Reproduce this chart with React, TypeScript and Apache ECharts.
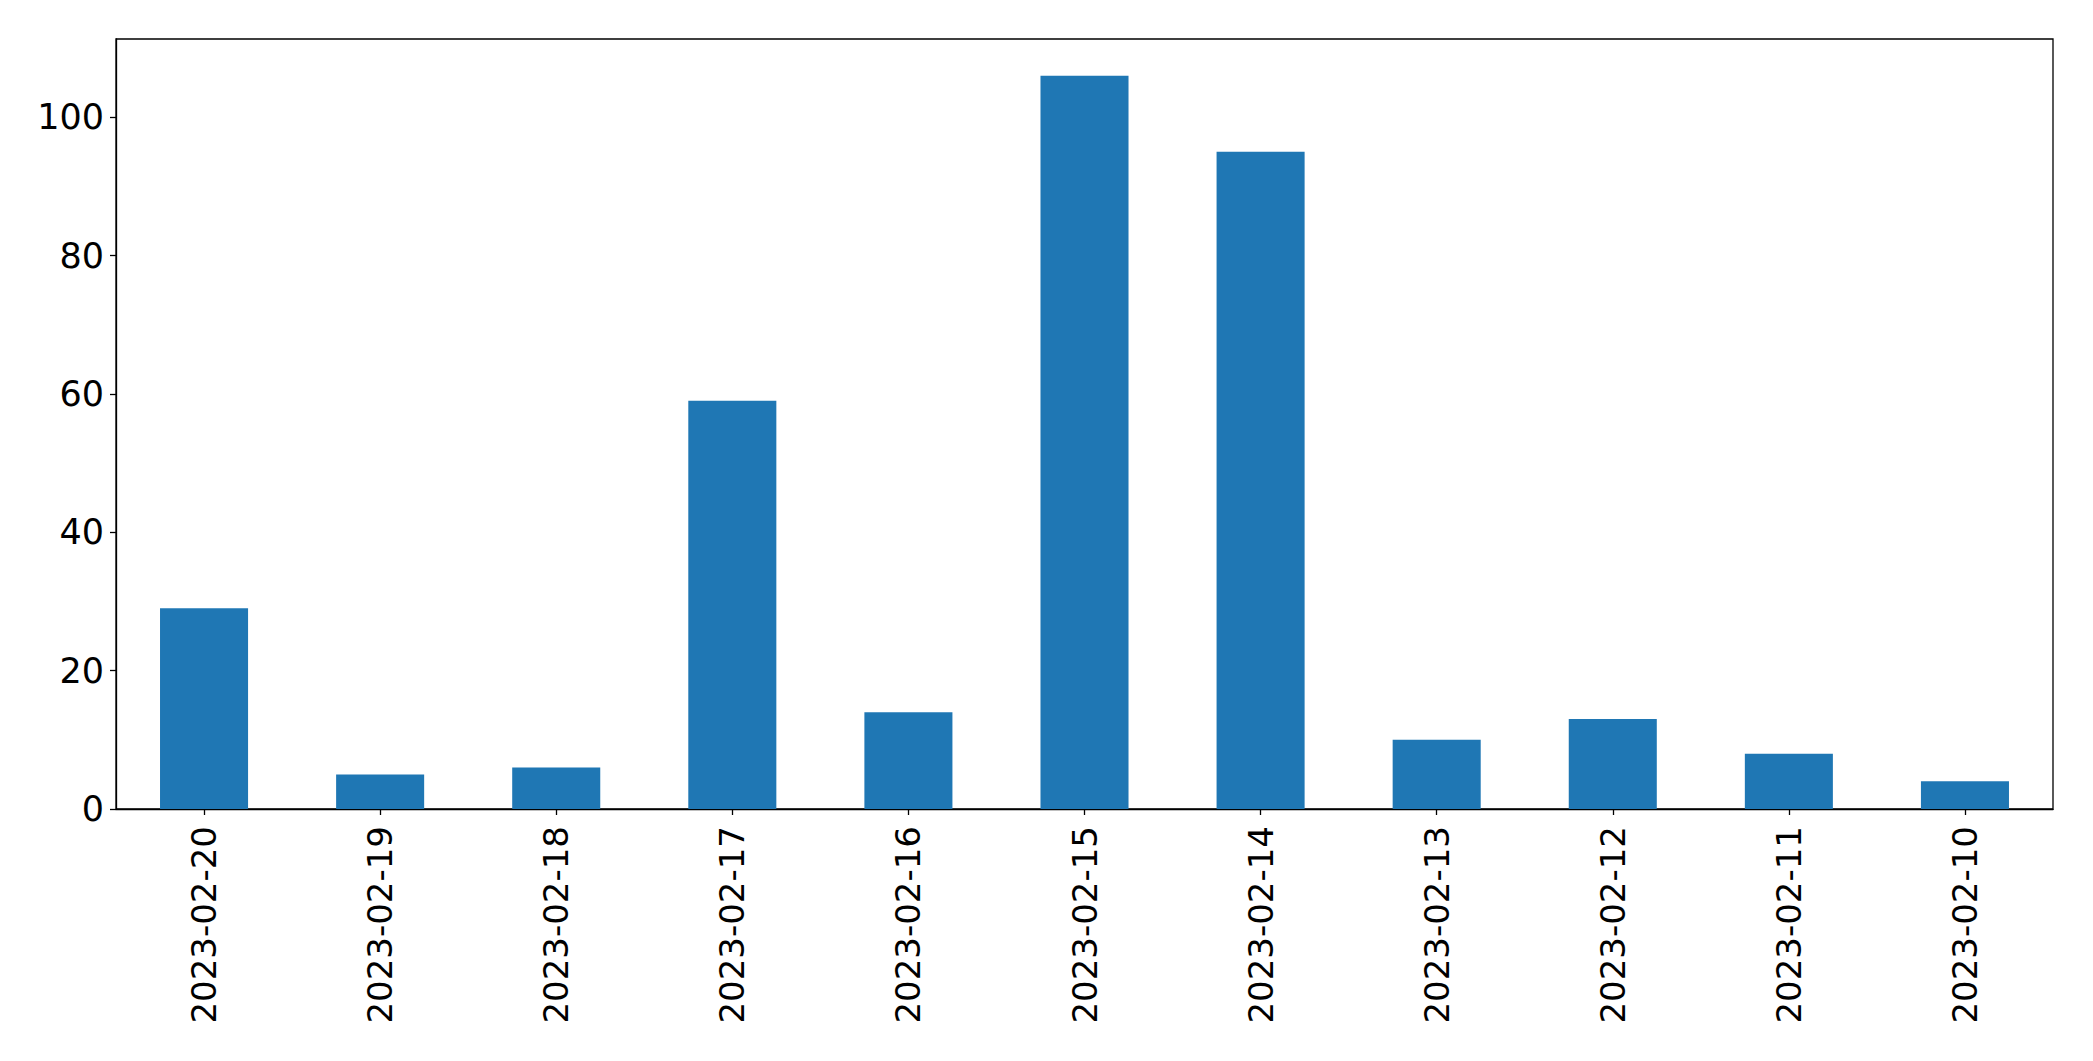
import React, { useEffect, useRef } from "react";
import * as echarts from "echarts";

const categories = [
  "2023-02-20", "2023-02-19", "2023-02-18", "2023-02-17", "2023-02-16", "2023-02-15",
  "2023-02-14", "2023-02-13", "2023-02-12", "2023-02-11", "2023-02-10",
];
const values = [29, 5, 6, 59, 14, 106, 95, 10, 13, 8, 4];
const yTicks = [0, 20, 40, 60, 80, 100];

export default function App() {
  const ref = useRef<HTMLDivElement>(null);
  useEffect(() => {
    document.body.style.margin = "0";
    const chart = echarts.init(ref.current!, null, { renderer: "svg" });
    const font = "DejaVu Sans";
    chart.setOption({
      animation: false,
      backgroundColor: "#ffffff",
      grid: {
        left: 116, top: 39, right: 40, bottom: 252,
        show: true, borderColor: "#000", borderWidth: 1.3, containLabel: false,
      },
      xAxis: {
        type: "category",
        data: categories,
        boundaryGap: true,
        axisLine: { show: true, lineStyle: { color: "#000", width: 1.3 } },
        axisTick: { show: true, alignWithLabel: true, length: 6, lineStyle: { color: "#000", width: 1.3 } },
        axisLabel: { rotate: 90, fontSize: 34, color: "#000", fontFamily: font, margin: 17, interval: 0 },
        splitLine: { show: false },
      },
      yAxis: {
        type: "value",
        min: 0,
        max: 111.3,
        interval: 20,
        axisLine: { show: true, lineStyle: { color: "#000", width: 1.3 } },
        axisTick: { show: true, length: 6, customValues: yTicks, lineStyle: { color: "#000", width: 1.3 } },
        axisLabel: { fontSize: 35, color: "#000", fontFamily: font, margin: 12, customValues: yTicks },
        splitLine: { show: false },
      },
      series: [
        {
          type: "bar",
          data: values,
          barWidth: "50%",
          itemStyle: { color: "#1f77b4" },
        },
      ],
    });
    return () => chart.dispose();
  }, []);
  return <div ref={ref} style={{ position: "absolute", left: 0, top: 0, width: 2093, height: 1061 }} />;
}
